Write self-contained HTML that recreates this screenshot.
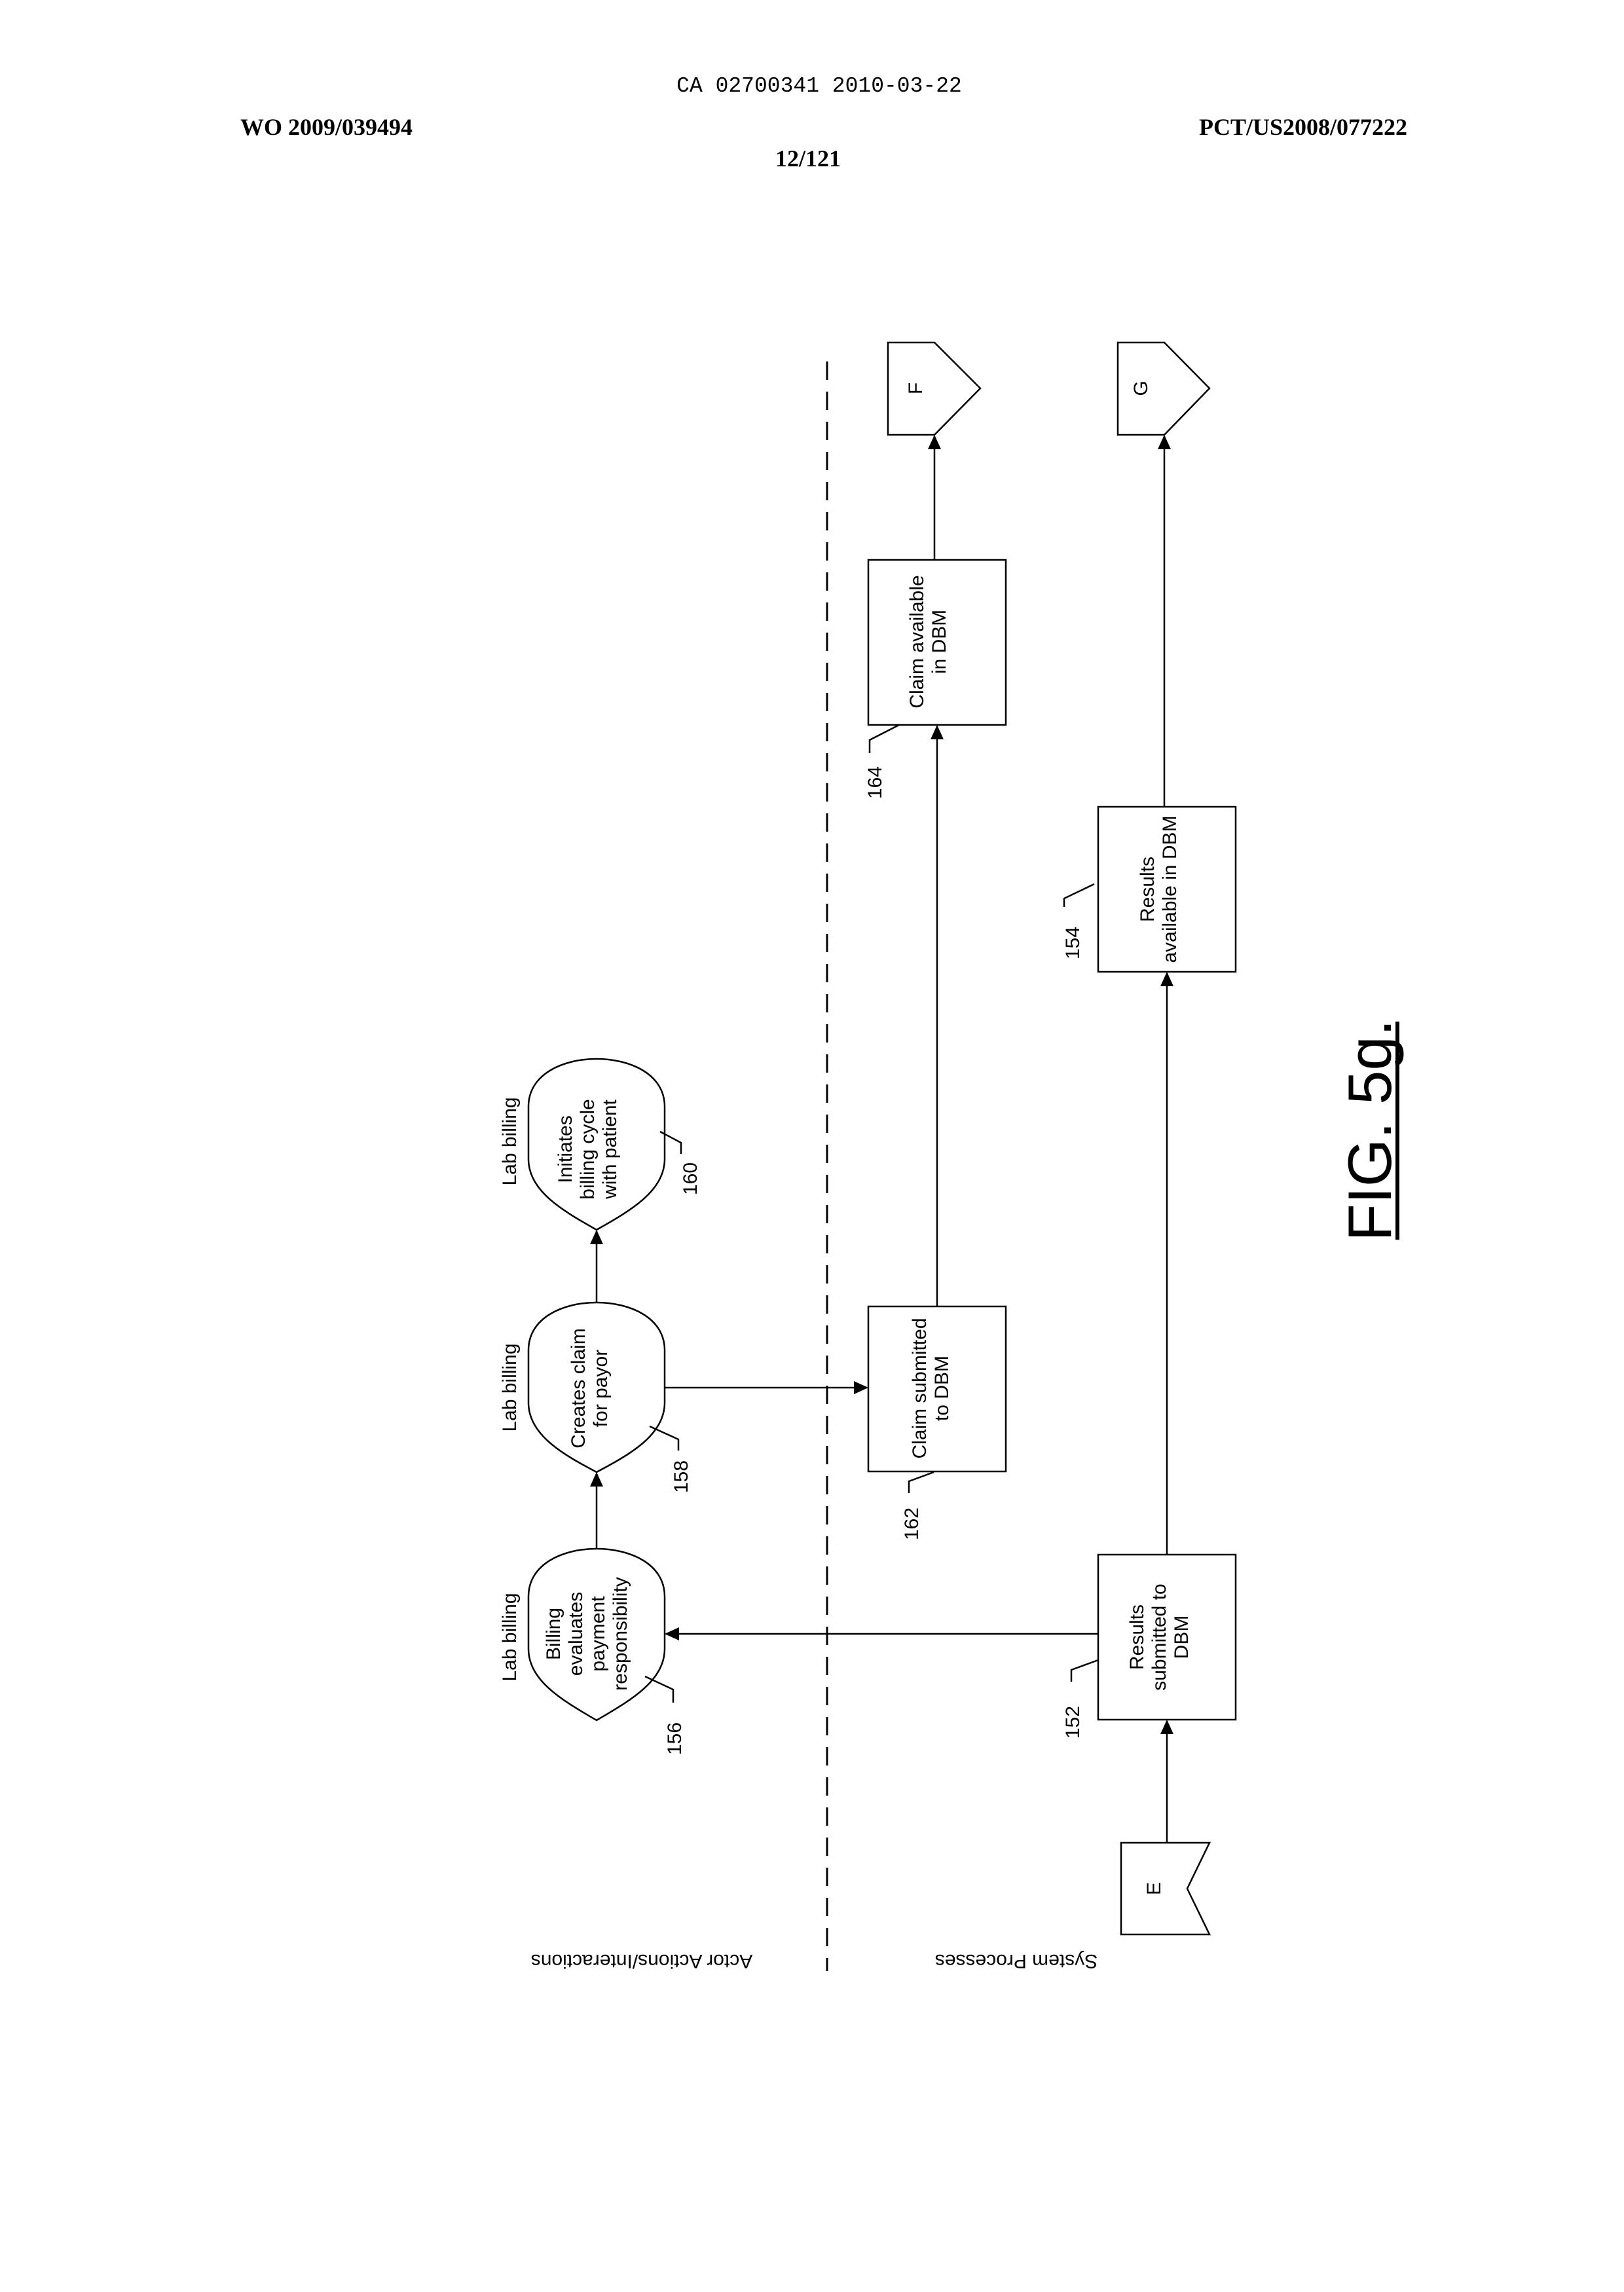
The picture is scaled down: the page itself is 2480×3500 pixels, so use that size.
<!DOCTYPE html>
<html><head><meta charset="utf-8"><style>
html,body{margin:0;padding:0;background:#fff;}
svg{display:block;}
text{font-family:"Liberation Sans",Arial,sans-serif;fill:#000;}
</style></head><body>
<svg width="2480" height="3500" viewBox="0 0 2480 3500" xmlns="http://www.w3.org/2000/svg">
<defs>
<marker id="ar" markerWidth="22" markerHeight="22" refX="20" refY="10" orient="auto" markerUnits="userSpaceOnUse">
<path d="M0,0 L22,10 L0,20 z" fill="#000"/>
</marker>
</defs>
<rect width="2480" height="3500" fill="#fff"/>
<!-- header -->
<text x="1251" y="140" font-size="33" text-anchor="middle" style="font-family:'Liberation Mono',monospace">CA 02700341 2010-03-22</text>
<text x="367" y="206" font-size="36" font-weight="bold" style="font-family:'Liberation Serif',serif">WO 2009/039494</text>
<text x="2149" y="206" font-size="36" font-weight="bold" text-anchor="end" style="font-family:'Liberation Serif',serif">PCT/US2008/077222</text>
<text x="1234" y="254" font-size="36" font-weight="bold" text-anchor="middle" style="font-family:'Liberation Serif',serif">12/121</text>

<!-- dashed divider -->
<line x1="1263" y1="552" x2="1263" y2="3010" stroke="#000" stroke-width="3" stroke-dasharray="28,18"/>

<g fill="#fff" stroke="#000" stroke-width="2.5">
<path d="M1356,523 L1427,523 L1497,593 L1427,664 L1356,664 Z"/>
<path d="M1707,523 L1778,523 L1847,593 L1778,664 L1707,664 Z"/>
<rect x="1326" y="855" width="210" height="252"/>
<rect x="1677" y="1232" width="210" height="252"/>
<rect x="1326" y="1995" width="210" height="252"/>
<rect x="1677" y="2374" width="210" height="252"/>
<path d="M1712,2814 L1847,2814 L1813,2884 L1847,2954 L1712,2954 Z"/>
<path d="M807,1690 C807,1640 860,1617 911,1617 C962,1617 1015,1640 1015,1690 L1015,1770 C1015,1820 960,1850 911,1878 C862,1850 807,1820 807,1770 Z"/>
<path d="M807,2062 C807,2012 860,1989 911,1989 C962,1989 1015,2012 1015,2062 L1015,2142 C1015,2192 960,2222 911,2248 C862,2222 807,2192 807,2142 Z"/>
<path d="M807,2438 C807,2388 860,2365 911,2365 C962,2365 1015,2388 1015,2438 L1015,2518 C1015,2568 960,2598 911,2627 C862,2598 807,2568 807,2518 Z"/>
</g>

<g stroke="#000" stroke-width="2.5" fill="none">
<line x1="1427" y1="855" x2="1427" y2="666" marker-end="url(#ar)"/>
<line x1="1778" y1="1232" x2="1778" y2="666" marker-end="url(#ar)"/>
<line x1="1431" y1="1995" x2="1431" y2="1109" marker-end="url(#ar)"/>
<line x1="1782" y1="2374" x2="1782" y2="1486" marker-end="url(#ar)"/>
<line x1="1782" y1="2814" x2="1782" y2="2628" marker-end="url(#ar)"/>
<line x1="1677" y1="2495" x2="1017" y2="2495" marker-end="url(#ar)"/>
<line x1="1015" y1="2119" x2="1324" y2="2119" marker-end="url(#ar)"/>
<line x1="911" y1="2365" x2="911" y2="2250" marker-end="url(#ar)"/>
<line x1="911" y1="1989" x2="911" y2="1880" marker-end="url(#ar)"/>
<!-- leaders -->
<path d="M1008,1728 L1040,1745 L1040,1762"/>
<path d="M992,2178 L1036,2198 L1036,2215"/>
<path d="M985,2560 L1028,2580 L1028,2600"/>
<path d="M1426,2248 L1388,2262 L1388,2280"/>
<path d="M1677,2535 L1636,2550 L1636,2568"/>
<path d="M1671,1350 L1625,1372 L1625,1385"/>
<path d="M1373,1107 L1328,1130 L1328,1150"/>
</g>

<g font-size="30" text-anchor="middle">
<text transform="translate(1410,980) rotate(-90)"><tspan x="0" y="0">Claim available</tspan><tspan x="0" y="34">in DBM</tspan></text>
<text transform="translate(1762,1358) rotate(-90)"><tspan x="0" y="0">Results</tspan><tspan x="0" y="34">available in DBM</tspan></text>
<text transform="translate(1414,2120) rotate(-90)"><tspan x="0" y="0">Claim submitted</tspan><tspan x="0" y="34">to DBM</tspan></text>
<text transform="translate(1746,2500) rotate(-90)"><tspan x="0" y="0">Results</tspan><tspan x="0" y="34">submitted to</tspan><tspan x="0" y="68">DBM</tspan></text>
<text transform="translate(873,1755) rotate(-90)"><tspan x="0" y="0">Initiates</tspan><tspan x="0" y="34">billing cycle</tspan><tspan x="0" y="68">with patient</tspan></text>
<text transform="translate(893,2120) rotate(-90)"><tspan x="0" y="0">Creates claim</tspan><tspan x="0" y="34">for payor</tspan></text>
<text transform="translate(855,2495) rotate(-90)"><tspan x="0" y="0">Billing</tspan><tspan x="0" y="34">evaluates</tspan><tspan x="0" y="68">payment</tspan><tspan x="0" y="102">responsibility</tspan></text>
<text transform="translate(788,1743) rotate(-90)">Lab billing</text>
<text transform="translate(788,2119) rotate(-90)">Lab billing</text>
<text transform="translate(788,2500) rotate(-90)">Lab billing</text>
<text transform="translate(1408,593) rotate(-90)">F</text>
<text transform="translate(1752,593) rotate(-90)">G</text>
<text transform="translate(1772,2884) rotate(-90)">E</text>
<text transform="translate(1064,1800) rotate(-90)">160</text>
<text transform="translate(1050,2255) rotate(-90)">158</text>
<text transform="translate(1040,2655) rotate(-90)">156</text>
<text transform="translate(1402,2327) rotate(-90)">162</text>
<text transform="translate(1648,2630) rotate(-90)">152</text>
<text transform="translate(1648,1440) rotate(-90)">154</text>
<text transform="translate(1346,1195) rotate(-90)">164</text>
<text transform="translate(980,2985) rotate(180)">Actor Actions/Interactions</text>
<text transform="translate(1552,2985) rotate(180)">System Processes</text>
</g>

<text transform="translate(2124,1726) rotate(-90)" font-size="94" text-anchor="middle">FIG. 5g.</text>
<line x1="2134" y1="1560" x2="2134" y2="1893" stroke="#000" stroke-width="6"/>
</svg>
</body></html>
